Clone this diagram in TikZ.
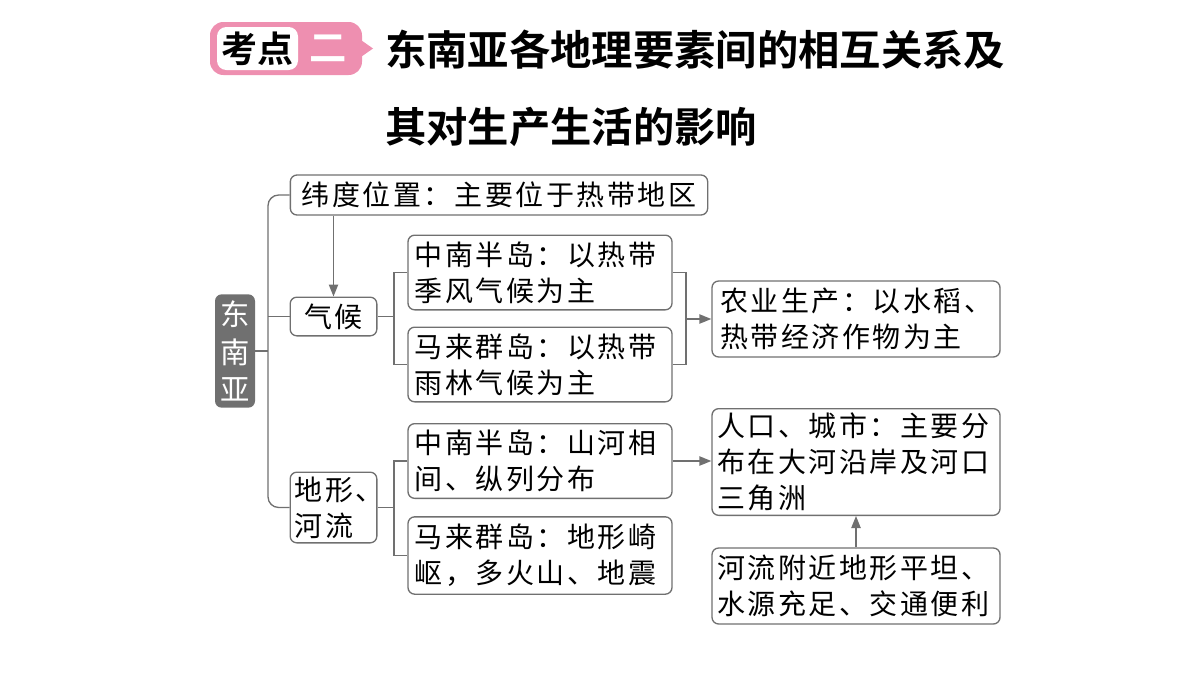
\documentclass[tikz,border=0pt]{standalone}
\usepackage{fontspec}
\setmainfont{Noto Sans CJK SC}
\newfontfamily\cjkb{Noto Sans CJK SC Bold}
\newfontfamily\bxf[LetterSpace=9]{Noto Sans CJK SC}
\usetikzlibrary{arrows.meta}
\definecolor{lg}{HTML}{707070}
\definecolor{pk}{HTML}{EE8FB0}
\begin{document}
\begin{tikzpicture}[x=0.75pt,y=-0.75pt,
 bx/.style={draw=lg,line width=1pt,rounded corners=5pt,font=\bxf\fontsize{21}{27}\selectfont,align=left,inner sep=0pt},
 ln/.style={draw=lg,line width=1pt},
 ar/.style={ln,-{Triangle[length=9pt,width=7pt]}}]
\useasboundingbox (0,0) rectangle (1200,675);
% title tag
\fill[pk,rounded corners=10pt] (210,22) rectangle (362,75);
\fill[pk] (358,38) -- (373,48.5) -- (358,59) -- cycle;
\fill[white,rounded corners=7pt] (217,27) rectangle (298,70);
\node (t1) at (257,48.5) {\cjkb\fontsize{27}{27}\selectfont 考点};
\node[white] (t2) at (328,48.5) {\cjkb\fontsize{28}{28}\selectfont 二};
\node[anchor=west,inner sep=0pt] (ti1) at (385,50) {\cjkb\fontsize{31}{31}\selectfont 东南亚各地理要素间的相互关系及};
\node[anchor=west,inner sep=0pt] (ti2) at (385,127) {\cjkb\fontsize{31}{31}\selectfont 其对生产生活的影响};
% boxes
\node[fill=lg,rounded corners=5pt,inner sep=0pt,text=white,font=\fontsize{22}{28}\selectfont,align=center,minimum width=30pt,minimum height=85pt] (dny) at (235,351) {东\\南\\亚};
\node[bx,minimum width=313pt,minimum height=30pt,align=center] (wd) at (499,195) {纬度位置：主要位于热带地区};
\node[bx,minimum width=65pt,minimum height=29pt,align=center] (qh) at (333.5,316.5) {气候};
\node[bx,minimum width=198pt,minimum height=56pt,text width=188pt] (zn1) at (540,272.5) {中南半岛：以热带\\季风气候为主};
\node[bx,minimum width=198pt,minimum height=56pt,text width=188pt] (ml1) at (540,364.5) {马来群岛：以热带\\雨林气候为主};
\node[bx,minimum width=216pt,minimum height=57pt,text width=204pt] (ny) at (856,319) {农业生产：以水稻、\\热带经济作物为主};
\node[bx,minimum width=65pt,minimum height=53pt,text width=58pt] (dx) at (333.5,507.5) {地形、\\河流};
\node[bx,minimum width=198pt,minimum height=56pt,text width=188pt] (zn2) at (540,461) {中南半岛：山河相\\间、纵列分布};
\node[bx,minimum width=198pt,minimum height=58pt,text width=188pt] (ml2) at (540,555.5) {马来群岛：地形崎\\岖，多火山、地震};
\node[bx,minimum width=216pt,minimum height=80pt,text width=208pt,anchor=north] (rk) at (856,408) {人口、城市：主要分\\布在大河沿岸及河口\\三角洲};
\node[bx,minimum width=216pt,minimum height=57pt,text width=208pt] (hl) at (856,586) {河流附近地形平坦、\\水源充足、交通便利};
% connectors
\coordinate (bl) at (268,351);
\draw[ln] (dny.east) -- (bl);
\draw[ln,rounded corners=8pt] (wd.west) -| (268,351) |- (dx.west);
\draw[ln] (268,316.5) -- (qh.west);
\draw[ar] (wd.south -| qh.north) -- (qh.north);
\coordinate (c1) at (394,316.5);
\draw[ln] (qh.east) -- (c1);
\draw[ln] (zn1.west) -| (c1) |- (ml1.west);
\coordinate (c2) at (686,319);
\draw[ln] (zn1.east) -| (c2) |- (ml1.east);
\draw[ar] (c2) -- (ny.west);
\coordinate (c3) at (394,507.5);
\draw[ln] (dx.east) -- (c3);
\draw[ln] (zn2.west) -| (c3) |- (ml2.west);
\draw[ar] (zn2.east) -- (zn2.east -| rk.west);
\draw[ar] (hl.north) -- (rk.south);
\end{tikzpicture}
\end{document}
